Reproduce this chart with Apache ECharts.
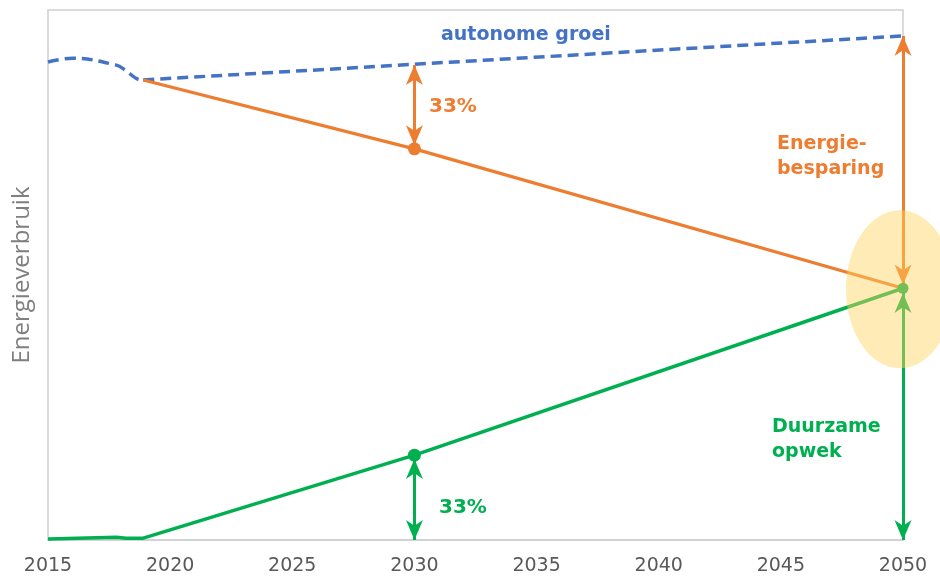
<!DOCTYPE html>
<html>
<head>
<meta charset="utf-8">
<script src="https://cdn.jsdelivr.net/npm/echarts@6/dist/echarts.min.js"></script>
<style>html,body{margin:0;padding:0;background:#fff}#c{width:940px;height:577px}</style>
</head>
<body>
<div id="c"></div>
<script>
// ---- data ----
const xTicks = [2015, 2020, 2025, 2030, 2035, 2040, 2045, 2050];
const autoHistYears = [2015, 2016, 2017.8, 2018.15, 2018.65, 2018.9];
const autoHistVals  = [90.2, 90.9, 89.6, 88.7, 87.0, 86.8];
const autoTrendYears = [2018.9, 2050];
const autoTrendVals  = [86.8, 95.1];
const orangeYears = [2018.9, 2030, 2050];
const orangeVals  = [86.8, 73.8, 47.5];
const greenYears = [2015, 2017.8, 2018.2, 2018.9, 2030, 2050];
const greenVals  = [0.2, 0.5, 0.35, 0.35, 16.0, 47.5];
const dotYears = [2030, 2030, 2050];
const dotVals  = [73.8, 16.0, 47.5];
// arrows: [year, from, to]
const orangeArrowYears = [2030, 2050];
const orangeArrowFrom  = [89.6, 95.1];
const orangeArrowTo    = [74.5, 48.2];
const greenArrowYears = [2030, 2050];
const greenArrowFrom  = [15.3, 46.6];
const greenArrowTo    = [0, 0];
const focusPoint = [2050, 47.5];

const BLUE = '#4472C4', ORANGE = '#ED7D31', GREEN = '#00B050';
const zip = (xs, ys) => xs.map((x, i) => [x, ys[i]]);
const ARROW = 'path://M10,0 L20,21 L10,15 L0,21 Z';

const chart = echarts.init(document.getElementById('c'));
const arrowLines = (ys, fr, to) => ys.map((y, i) => [{coord: [y, fr[i]]}, {coord: [y, to[i]]}]);
const arrowML = (color, ys, fr, to) => ({silent: true, symbol: [ARROW, ARROW], symbolSize: [17, 20],
  symbolOffset: [[0, 10], [0, 10]],
  label: {show: false}, lineStyle: {color: color, width: 3, type: 'solid'},
  data: arrowLines(ys, fr, to)});

chart.setOption({
  animation: false,
  grid: {left: 48, right: 37, top: 10, bottom: 37, show: true, borderColor: '#cfcfcf', borderWidth: 1.5},
  xAxis: {
    type: 'value', min: 2015, max: 2050, interval: 5,
    axisLine: {show: true, lineStyle: {color: '#d0d0d0', width: 1.5}},
    axisTick: {show: false}, splitLine: {show: false},
    axisLabel: {color: '#595959', fontSize: 19, fontFamily: 'DejaVu Sans', margin: 17,
      formatter: v => xTicks.includes(v) ? String(v) : ''}
  },
  yAxis: {
    type: 'value', min: 0, max: 100,
    axisLine: {show: false}, axisTick: {show: false}, axisLabel: {show: false}, splitLine: {show: false},
    name: 'Energieverbruik', nameLocation: 'middle', nameGap: 14,
    nameTextStyle: {color: '#7f7f7f', fontSize: 24, fontFamily: 'Open Sans'}
  },
  series: [
    {type: 'line', data: zip(autoHistYears, autoHistVals), smooth: 0.4, showSymbol: false,
      lineStyle: {color: BLUE, width: 3.5, type: [11, 6]}},
    {type: 'line', data: zip(autoTrendYears, autoTrendVals), showSymbol: false,
      lineStyle: {color: BLUE, width: 3.5, type: [11, 6]}},
    {type: 'line', data: zip(orangeYears, orangeVals), showSymbol: false,
      lineStyle: {color: ORANGE, width: 3.2}},
    {type: 'line', data: zip(greenYears, greenVals), showSymbol: false,
      lineStyle: {color: GREEN, width: 3.5}},
    {type: 'line', data: [], markLine: arrowML(ORANGE, orangeArrowYears, orangeArrowFrom, orangeArrowTo)},
    {type: 'line', data: [], markLine: arrowML(GREEN, greenArrowYears, greenArrowFrom, greenArrowTo)},
    {type: 'scatter', symbolSize: (v, p) => p.dataIndex === 2 ? 11 : 13,
      data: zip(dotYears, dotVals).map((d, i) => ({value: d, itemStyle: {color: i === 0 ? ORANGE : GREEN, opacity: 1}})),
      z: 5}
  ]
});

const fp = chart.convertToPixel({gridIndex: 0}, focusPoint);
const txt = 'bold 19px "DejaVu Sans"';
chart.setOption({
  graphic: [
    {type: 'ellipse', z: 100, shape: {cx: fp[0] - 3, cy: fp[1] + 1, rx: 54, ry: 79},
      style: {fill: 'rgba(255,210,90,0.45)'}},
    {type: 'text', z: 110, left: 441, top: 26, style: {text: 'autonome groei', fill: BLUE, font: txt}},
    {type: 'text', z: 110, left: 429, top: 97, style: {text: '33%', fill: ORANGE, font: 'bold 20px "DejaVu Sans"'}},
    {type: 'text', z: 110, left: 439, top: 498, style: {text: '33%', fill: GREEN, font: 'bold 20px "DejaVu Sans"'}},
    {type: 'text', z: 110, left: 777, top: 132, style: {text: 'Energie-\nbesparing', fill: ORANGE,
      font: txt, lineHeight: 25}},
    {type: 'text', z: 110, left: 772, top: 415, style: {text: 'Duurzame\nopwek', fill: GREEN,
      font: txt, lineHeight: 25}}
  ]
});
</script>
</body>
</html>
